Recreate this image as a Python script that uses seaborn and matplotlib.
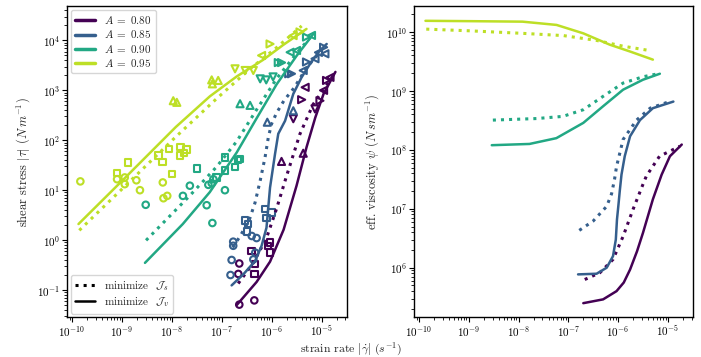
import numpy as np
import pandas as pd
import matplotlib
matplotlib.use('Agg')
import matplotlib.pyplot as plt
from matplotlib.lines import Line2D
import seaborn as sns

sns.set_theme(style="ticks")
plt.rcParams['font.family'] = 'serif'
plt.rcParams['font.serif'] = ['cmr10', 'DejaVu Serif']
plt.rcParams['mathtext.fontset'] = 'cm'
plt.rcParams['axes.formatter.use_mathtext'] = True
plt.rcParams['axes.edgecolor'] = 'black'
plt.rcParams['xtick.color'] = 'black'
plt.rcParams['ytick.color'] = 'black'

A_values = ['0.80', '0.85', '0.90', '0.95']
colors = ['#440154', '#355f8d', '#22a884', '#bddf26']

# --- right panel: effective viscosity curves (strain rate, psi) ---
rate_v_080 = [2.0e-7, 5.0e-7, 9.3e-7, 1.3e-6, 1.74e-6, 2.4e-6, 3.16e-6, 5.0e-6, 7.5e-6, 1.1e-5, 1.9e-5]
psi_v_080 = [2.5e5, 2.9e5, 4.0e5, 5.6e5, 9.3e5, 1.9e6, 3.9e6, 1.45e7, 3.8e7, 7.8e7, 1.23e8]
rate_s_080 = [2.14e-7, 4.3e-7, 7.9e-7, 1.26e-6, 2.0e-6, 3.16e-6, 3.7e-6, 6.8e-6, 1.74e-5]
psi_s_080 = [6.3e5, 8.2e5, 1.38e6, 3.4e6, 9.8e6, 2.6e7, 3.6e7, 7.8e7, 1.15e8]

rate_v_085 = [1.57e-7, 3.7e-7, 5.9e-7, 7.9e-7, 9.0e-7, 9.5e-7, 1.02e-6, 1.08e-6, 1.17e-6, 1.36e-6,
              1.74e-6, 2.75e-6, 5.0e-6, 1.29e-5]
psi_v_085 = [7.7e5, 7.9e5, 1.0e6, 1.57e6, 3.0e6, 6.6e6, 1.2e7, 2.0e7, 3.8e7, 7.8e7,
             1.7e8, 3.2e8, 5.1e8, 6.6e8]
rate_s_085 = [1.66e-7, 3.16e-7, 5.9e-7, 7.4e-7, 8.5e-7, 9.3e-7, 1.26e-6, 2.35e-6, 4.4e-6, 1.02e-5]
psi_s_085 = [4.3e6, 6.2e6, 1.1e7, 1.8e7, 3.2e7, 5.2e7, 1.5e8, 3.2e8, 5.1e8, 6.5e8]

rate_v_090 = [2.9e-9, 1.66e-8, 5.75e-8, 2.0e-7, 5.0e-7, 1.26e-6, 3.16e-6, 6.9e-6]
psi_v_090 = [1.2e8, 1.26e8, 1.58e8, 2.87e8, 5.5e8, 1.05e9, 1.55e9, 1.96e9]
rate_s_090 = [3.05e-9, 2.3e-8, 7.8e-8, 2.0e-7, 5.0e-7, 1.26e-6, 3.16e-6, 6.4e-6]
psi_s_090 = [3.2e8, 3.4e8, 3.7e8, 4.8e8, 8.1e8, 1.36e9, 1.74e9, 1.96e9]

rate_v_095 = [1.35e-10, 1.0e-9, 1.2e-8, 5.8e-8, 2.0e-7, 6.8e-7, 1.7e-6, 5.0e-6]
psi_v_095 = [1.55e10, 1.53e10, 1.50e10, 1.32e10, 9.5e9, 6.1e9, 4.7e9, 3.4e9]
rate_s_095 = [1.4e-10, 1.0e-9, 1.2e-8, 8.0e-8, 3.7e-7, 1.26e-6, 4.0e-6]
psi_s_095 = [1.12e10, 1.05e10, 9.5e9, 8.7e9, 7.2e9, 5.75e9, 4.9e9]

# --- left panel: fitted stress curves (strain rate, |tau|) ---
tau_rate_v_080 = [2.0e-7, 5.0e-7, 9.3e-7, 1.74e-6, 3.16e-6, 5.0e-6, 7.5e-6, 1.1e-5, 1.9e-5]
tau_v_080 = [0.05, 0.145, 0.37, 1.62, 12.3, 72, 285, 850, 2340]
tau_rate_s_080 = [2.14e-7, 4.3e-7, 7.9e-7, 1.26e-6, 2.0e-6, 3.16e-6, 3.7e-6, 6.8e-6, 1.74e-5]
tau_s_080 = [0.135, 0.35, 1.1, 4.3, 19.5, 82, 134, 525, 2000]

tau_rate_v_085 = [1.58e-7, 2.71e-7, 4.65e-7, 6.3e-7, 7.9e-7, 9.3e-7, 1.17e-6, 1.36e-6, 1.86e-6,
                  2.72e-6, 3.98e-6, 5.9e-6, 9.3e-6, 1.27e-5]
tau_v_085 = [0.124, 0.206, 0.38, 0.77, 1.78, 11.3, 53, 135, 245, 850, 1820, 3400, 6300, 8500]
tau_rate_s_085 = [1.66e-7, 2.34e-7, 3.55e-7, 4.65e-7, 5.9e-7, 7.4e-7, 8.6e-7, 1.0e-6, 1.26e-6,
                  1.78e-6, 2.82e-6, 5.0e-6, 1.02e-5]
tau_s_085 = [0.71, 1.2, 2.5, 5.6, 15.5, 46, 115, 214, 355, 630, 1120, 2820, 6600]

tau_rate_v_090 = [2.9e-9, 1.66e-8, 5.75e-8, 2.0e-7, 5.0e-7, 1.26e-6, 3.16e-6, 6.9e-6]
tau_v_090 = [0.35, 2.1, 9.1, 57, 275, 1320, 4900, 13600]
tau_rate_s_090 = [3.05e-9, 2.3e-8, 7.8e-8, 2.0e-7, 5.0e-7, 1.26e-6, 3.16e-6, 6.4e-6]
tau_s_090 = [0.99, 7.8, 29, 95, 410, 1720, 5500, 12500]

tau_rate_v_095 = [1.35e-10, 1.0e-9, 1.2e-8, 5.8e-8, 2.0e-7, 6.8e-7, 1.7e-6, 5.0e-6]
tau_v_095 = [2.1, 15.3, 184, 760, 1900, 4100, 8100, 17000]
tau_rate_s_095 = [1.4e-10, 1.0e-9, 1.2e-8, 8.0e-8, 3.7e-7, 1.26e-6, 4.0e-6]
tau_s_095 = [1.57, 10.5, 117, 690, 2700, 7200, 19500]

# --- left panel: observations (marker, strain rate, |tau|) ---
AST = (6, 2, 0)
obs_080 = [
    ('o', 2.15e-7, 0.21), ('o', 2.25e-7, 0.34), ('o', 4.5e-7, 0.062), ('o', 2.25e-7, 0.051),
    ('s', 4.0e-7, 0.61), ('s', 4.65e-7, 0.33), ('s', 4.5e-7, 0.21), ('s', 9.3e-7, 0.89),
    ('s', 9.3e-7, 0.56), ('s', 8.5e-7, 0.76),
    (AST, 2.2e-6, 4.9), (AST, 2.35e-6, 4.2),
    ('^', 1.58e-6, 37.7), ('^', 4.3e-6, 55),
    ('v', 2.72e-6, 270), ('v', 7.4e-6, 425),
    ('<', 4.7e-6, 1150), ('>', 4.0e-6, 650), ('>', 9.3e-6, 620), ('<', 1.1e-5, 1000),
    ('>', 1.26e-5, 1580), ('<', 1.48e-5, 1820), (AST, 1.74e-5, 2140),
]
obs_085 = [
    ('o', 1.7e-7, 0.77), ('o', 1.7e-7, 0.93), ('o', 1.58e-7, 0.40), ('o', 1.5e-7, 0.2),
    ('o', 4.0e-7, 1.21), ('o', 5.0e-7, 1.1), ('o', 4.3e-7, 0.41), ('o', 4.7e-7, 0.56),
    ('s', 2.9e-7, 2.5), ('s', 3.4e-7, 2.1), ('s', 3.2e-7, 1.5), ('s', 7.4e-7, 4.2),
    ('s', 7.9e-7, 2.8), ('s', 1.0e-6, 3.6),
    (AST, 4.3e-7, 57), (AST, 5.0e-7, 52), (AST, 1.17e-6, 107), (AST, 1.32e-6, 95),
    ('^', 8.2e-7, 230), ('^', 2.72e-6, 390),
    ('>', 2.2e-6, 2150), ('>', 2.5e-6, 2150), ('<', 4.3e-6, 2500), ('>', 5.0e-6, 3700),
    ('<', 7.4e-6, 4300), ('<', 8.7e-6, 5750), ('>', 1.1e-5, 7300), ('<', 1.17e-5, 5400),
]
obs_090 = [
    ('o', 3.0e-9, 5.1), ('o', 2.3e-8, 12.3), ('o', 1.67e-8, 7.7), ('o', 5.0e-8, 5.0),
    ('o', 6.5e-8, 2.2), ('o', 1.16e-7, 10), ('o', 5.4e-8, 12.8), ('o', 6.3e-8, 13.8),
    ('o', 6.8e-8, 16.6),
    ('s', 3.2e-8, 27), ('s', 1.16e-7, 45), ('s', 1.16e-7, 25), ('s', 1.85e-7, 29),
    ('s', 2.14e-7, 40), ('s', 2.3e-7, 42), ('s', 7.9e-8, 18),
    (AST, 1.0e-7, 145), (AST, 1.7e-7, 135), (AST, 2.0e-7, 107), (AST, 3.7e-7, 270),
    (AST, 4.3e-7, 300),
    ('^', 2.33e-7, 540), ('^', 3.7e-7, 500),
    ('v', 5.9e-7, 1700), ('v', 7.8e-7, 1620), ('v', 1.07e-6, 1860),
    ('>', 1.36e-6, 3600), ('>', 1.58e-6, 3600), ('<', 2.35e-6, 5800), ('<', 3.16e-6, 6300),
    ('>', 5.0e-6, 11700), ('<', 6.3e-6, 12600),
]
obs_095 = [
    ('o', 1.47e-10, 15.0), ('o', 8.0e-10, 16.6), ('o', 1.14e-9, 18.0), ('o', 1.14e-9, 13.2),
    ('o', 1.95e-9, 15.8), ('o', 2.3e-9, 10.0), ('o', 6.6e-9, 14.3), ('o', 6.8e-9, 6.9),
    ('o', 8.1e-9, 7.7),
    ('s', 1.32e-9, 36), ('s', 8.0e-10, 22), ('s', 5.4e-9, 50), ('s', 6.5e-9, 37),
    ('s', 8.7e-9, 67), ('s', 1.48e-8, 74), ('s', 1.95e-8, 65), ('s', 1.45e-8, 49),
    ('s', 1.74e-8, 56), ('s', 1.0e-8, 21),
    ('^', 1.07e-8, 620), ('^', 1.26e-8, 575), ('^', 6.3e-8, 1620), ('^', 8.5e-8, 1580),
    ('^', 6.5e-8, 1350),
    (AST, 1.16e-8, 182), (AST, 1.35e-8, 174), (AST, 3.9e-8, 390), (AST, 4.5e-8, 390),
    (AST, 5.0e-8, 420),
    ('v', 1.85e-7, 2700), ('v', 2.95e-7, 2500), ('v', 4.3e-7, 2500),
    ('<', 6.3e-7, 5000), ('>', 9.3e-7, 8500), (AST, 1.08e-6, 8500), ('<', 2.7e-6, 12500),
    ('>', 3.7e-6, 14800), (AST, 5.0e-6, 17200),
]

x_ticks = [1e-10, 1e-9, 1e-8, 1e-7, 1e-6, 1e-5]
tau_ticks = [1e-1, 1e0, 1e1, 1e2, 1e3, 1e4]
psi_ticks = [1e6, 1e7, 1e8, 1e9, 1e10]

curves_v = [(rate_v_080, psi_v_080), (rate_v_085, psi_v_085), (rate_v_090, psi_v_090), (rate_v_095, psi_v_095)]
curves_s = [(rate_s_080, psi_s_080), (rate_s_085, psi_s_085), (rate_s_090, psi_s_090), (rate_s_095, psi_s_095)]
tau_v = [(tau_rate_v_080, tau_v_080), (tau_rate_v_085, tau_v_085), (tau_rate_v_090, tau_v_090), (tau_rate_v_095, tau_v_095)]
tau_s = [(tau_rate_s_080, tau_s_080), (tau_rate_s_085, tau_s_085), (tau_rate_s_090, tau_s_090), (tau_rate_s_095, tau_s_095)]
observations = [obs_080, obs_085, obs_090, obs_095]

fig = plt.figure(figsize=(7.01, 3.57), dpi=100)
ax1 = fig.add_axes([0.096, 0.112, 0.399, 0.870])
ax2 = fig.add_axes([0.591, 0.112, 0.398, 0.870])

LW = 1.8
for ax in (ax1, ax2):
    ax.set_xscale('log')
    ax.set_yscale('log')

# observations first, fitted curves on top
for obs, c in zip(observations, colors):
    df = pd.DataFrame(obs, columns=['marker', 'rate', 'tau'])
    df['key'] = df['marker'].astype(str)
    for key, grp in df.groupby('key', sort=False):
        m = grp['marker'].iloc[0]
        size = 26 if key in ('^', 'v', '<', '>') else 22
        sns.scatterplot(x=grp['rate'].tolist(), y=grp['tau'].tolist(), marker=m,
                        s=size, color=c, facecolor='none', edgecolor=c, linewidth=1.5,
                        ax=ax1, legend=False, zorder=2)

for (xv, yv), (xs, ys), c in zip(tau_v, tau_s, colors):
    sns.lineplot(x=xv, y=yv, sort=False, estimator=None, color=c, lw=LW, ax=ax1, zorder=3)
    sns.lineplot(x=xs, y=ys, sort=False, estimator=None, color=c, lw=LW + 0.4, ls=':', ax=ax1, zorder=3)

for (xv, yv), (xs, ys), c in zip(curves_v, curves_s, colors):
    sns.lineplot(x=xv, y=yv, sort=False, estimator=None, color=c, lw=LW, ax=ax2)
    sns.lineplot(x=xs, y=ys, sort=False, estimator=None, color=c, lw=LW + 0.4, ls=':', ax=ax2)

for ax in (ax1, ax2):
    ax.set_xticks(x_ticks)
    ax.set_xlim(8.05e-11, 3.24e-5)
    ax.tick_params(which='major', length=3.5, width=0.8, labelsize=8, pad=1.5)
    ax.tick_params(which='minor', length=2, width=0.6)
    for sp in ax.spines.values():
        sp.set_linewidth(1.0)
        sp.set_color('black')
    ax.set_xlabel(None)

ax1.set_yticks(tau_ticks)
ax2.set_yticks(psi_ticks)
ax1.set_ylim(0.0288, 4.8e4)
ax2.set_ylim(1.455e5, 2.72e10)
ax1.set_ylabel(r'shear stress $|\tau|$ ($N\,m^{-1}$)', fontsize=9, labelpad=4)
ax2.set_ylabel(r'eff. viscosity $\psi$ ($N\,s m^{-1}$)', fontsize=9, labelpad=4)
fig.text(0.5, 0.022, r'strain rate $|\dot{\gamma}|$ ($s^{-1}$)', fontsize=8.5, ha='center', va='center')

h1 = [Line2D([], [], color=c, lw=2.5) for c in colors]
leg1 = ax1.legend(h1, [rf'$A\;=\;{a}$' for a in A_values], loc='upper left', fontsize=8,
                  handlelength=1.8, borderaxespad=0.3, labelspacing=0.2)
ax1.add_artist(leg1)
h2 = [Line2D([], [], color='black', lw=LW + 0.4, ls=':'), Line2D([], [], color='black', lw=LW)]
ax1.legend(h2, [r'minimize  $\mathcal{J}_s$', r'minimize  $\mathcal{J}_v$'], loc='lower left',
           fontsize=8, handlelength=1.8, borderaxespad=0.3, labelspacing=0.2)

fig.savefig('out.png', dpi=100)
